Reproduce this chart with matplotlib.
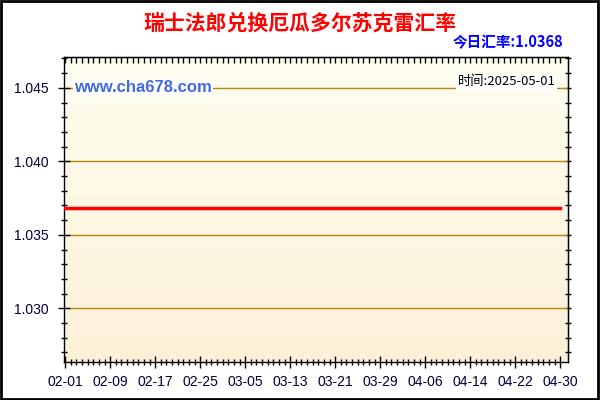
import matplotlib.pyplot as plt
import numpy as np
import pandas as pd

plt.rcParams['font.family'] = ['Liberation Sans', 'Noto Sans CJK SC', 'DejaVu Sans']

title = '瑞士法郎兑换厄瓜多尔苏克雷汇率'
today_rate = '今日汇率:1.0368'
site = 'www.cha678.com'
date_note = '时间:2025-05-01'

dates = pd.date_range('2025-02-01', '2025-04-30', freq='D')
rates = [
    1.0368, 1.0368, 1.0368, 1.0368, 1.0368, 1.0368, 1.0368, 1.0368, 1.0368, 1.0368,
    1.0368, 1.0368, 1.0368, 1.0368, 1.0368, 1.0368, 1.0368, 1.0368, 1.0368, 1.0368,
    1.0368, 1.0368, 1.0368, 1.0368, 1.0368, 1.0368, 1.0368, 1.0368, 1.0368, 1.0368,
    1.0368, 1.0368, 1.0368, 1.0368, 1.0368, 1.0368, 1.0368, 1.0368, 1.0368, 1.0368,
    1.0368, 1.0368, 1.0368, 1.0368, 1.0368, 1.0368, 1.0368, 1.0368, 1.0368, 1.0368,
    1.0368, 1.0368, 1.0368, 1.0368, 1.0368, 1.0368, 1.0368, 1.0368, 1.0368, 1.0368,
    1.0368, 1.0368, 1.0368, 1.0368, 1.0368, 1.0368, 1.0368, 1.0368, 1.0368, 1.0368,
    1.0368, 1.0368, 1.0368, 1.0368, 1.0368, 1.0368, 1.0368, 1.0368, 1.0368, 1.0368,
    1.0368, 1.0368, 1.0368, 1.0368, 1.0368, 1.0368, 1.0368, 1.0368, 1.0368,
]
y_ticks = [1.030, 1.035, 1.040, 1.045]

fig = plt.figure(figsize=(6, 4), dpi=100)
ax = fig.add_axes([64 / 600, 38 / 400, 504 / 600, 305 / 400])

# cream gradient background
grad = np.linspace(0, 1, 256).reshape(-1, 1)
top = np.array([1.0, 0.996, 0.945])
bot = np.array([0.992, 0.945, 0.847])
img = top + (bot - top) * grad[:, :, None]
ax.imshow(img, extent=[0, 1, 0, 1], transform=ax.transAxes, aspect='auto', zorder=0)

ax.plot(dates, rates, color='#ff0000', linewidth=2.5, zorder=3)

ax.set_xlim(dates[0] - pd.Timedelta(days=0.2), dates[-1] + pd.Timedelta(days=1.4))
ax.set_ylim(1.02635, 1.0471)

ax.set_yticks(y_ticks)
ax.set_yticklabels(['%.3f' % v for v in y_ticks])
ax.set_yticks(np.arange(1.027, 1.047, 0.001), minor=True)
ax.set_xticks(dates[::8])
ax.set_xticklabels([d.strftime('%m-%d') for d in dates[::8]])
ax.set_xticks(dates, minor=True)

for v in y_ticks:
    ax.axhline(v, color='#b8860b', linewidth=1, zorder=1)

ax.tick_params(axis='both', which='major', direction='inout', length=8, width=1,
               labelsize=10, colors='black')
ax.tick_params(axis='both', which='minor', direction='inout', length=5, width=1)
ax.tick_params(axis='x', which='major', pad=5)
ax.tick_params(axis='y', which='major', pad=7)
for lab in ax.get_xticklabels() + ax.get_yticklabels():
    lab.set_color('#000033')

# inner ticks on top and right
ax2 = ax.secondary_xaxis('top')
ax2.set_xticks(dates)
ax2.set_xticklabels([])
ax2.tick_params(direction='in', length=4, width=1)
ax3 = ax.secondary_yaxis('right')
ax3.set_yticks(np.arange(1.027, 1.047, 0.001))
ax3.set_yticklabels([])
ax3.tick_params(direction='inout', length=5, width=1)

for s in ax.spines.values():
    s.set_color('black')
    s.set_linewidth(1)

fig.text(0.5, 1 - 23 / 400, title, ha='center', va='center', color='#ff0000',
         fontsize=15, fontweight='bold', family=['Noto Sans CJK SC', 'DejaVu Sans'])
fig.text(563 / 600, 1 - 42 / 400, today_rate, ha='right', va='center', color='#0000ff',
         fontsize=10.5, fontweight='bold', family=['Noto Sans CJK SC', 'DejaVu Sans'])
ax.text(0.02, 1.045, site, transform=ax.get_yaxis_transform(), ha='left', va='center',
        color='#4169e1', fontsize=12, fontweight='bold', zorder=4,
        bbox=dict(facecolor='white', edgecolor='none', pad=1))
ax.text(0.975, 1.0454, date_note, transform=ax.get_yaxis_transform(), ha='right', va='center',
        color='black', fontsize=9.5, zorder=4, family=['Noto Sans CJK SC', 'DejaVu Sans'],
        bbox=dict(facecolor='white', edgecolor='none', pad=1))

fig.patches.append(plt.Rectangle((0.002, 0.003), 0.995, 0.994, transform=fig.transFigure,
                                 fill=False, edgecolor='black', linewidth=2))

fig.savefig('out.png', dpi=100)
